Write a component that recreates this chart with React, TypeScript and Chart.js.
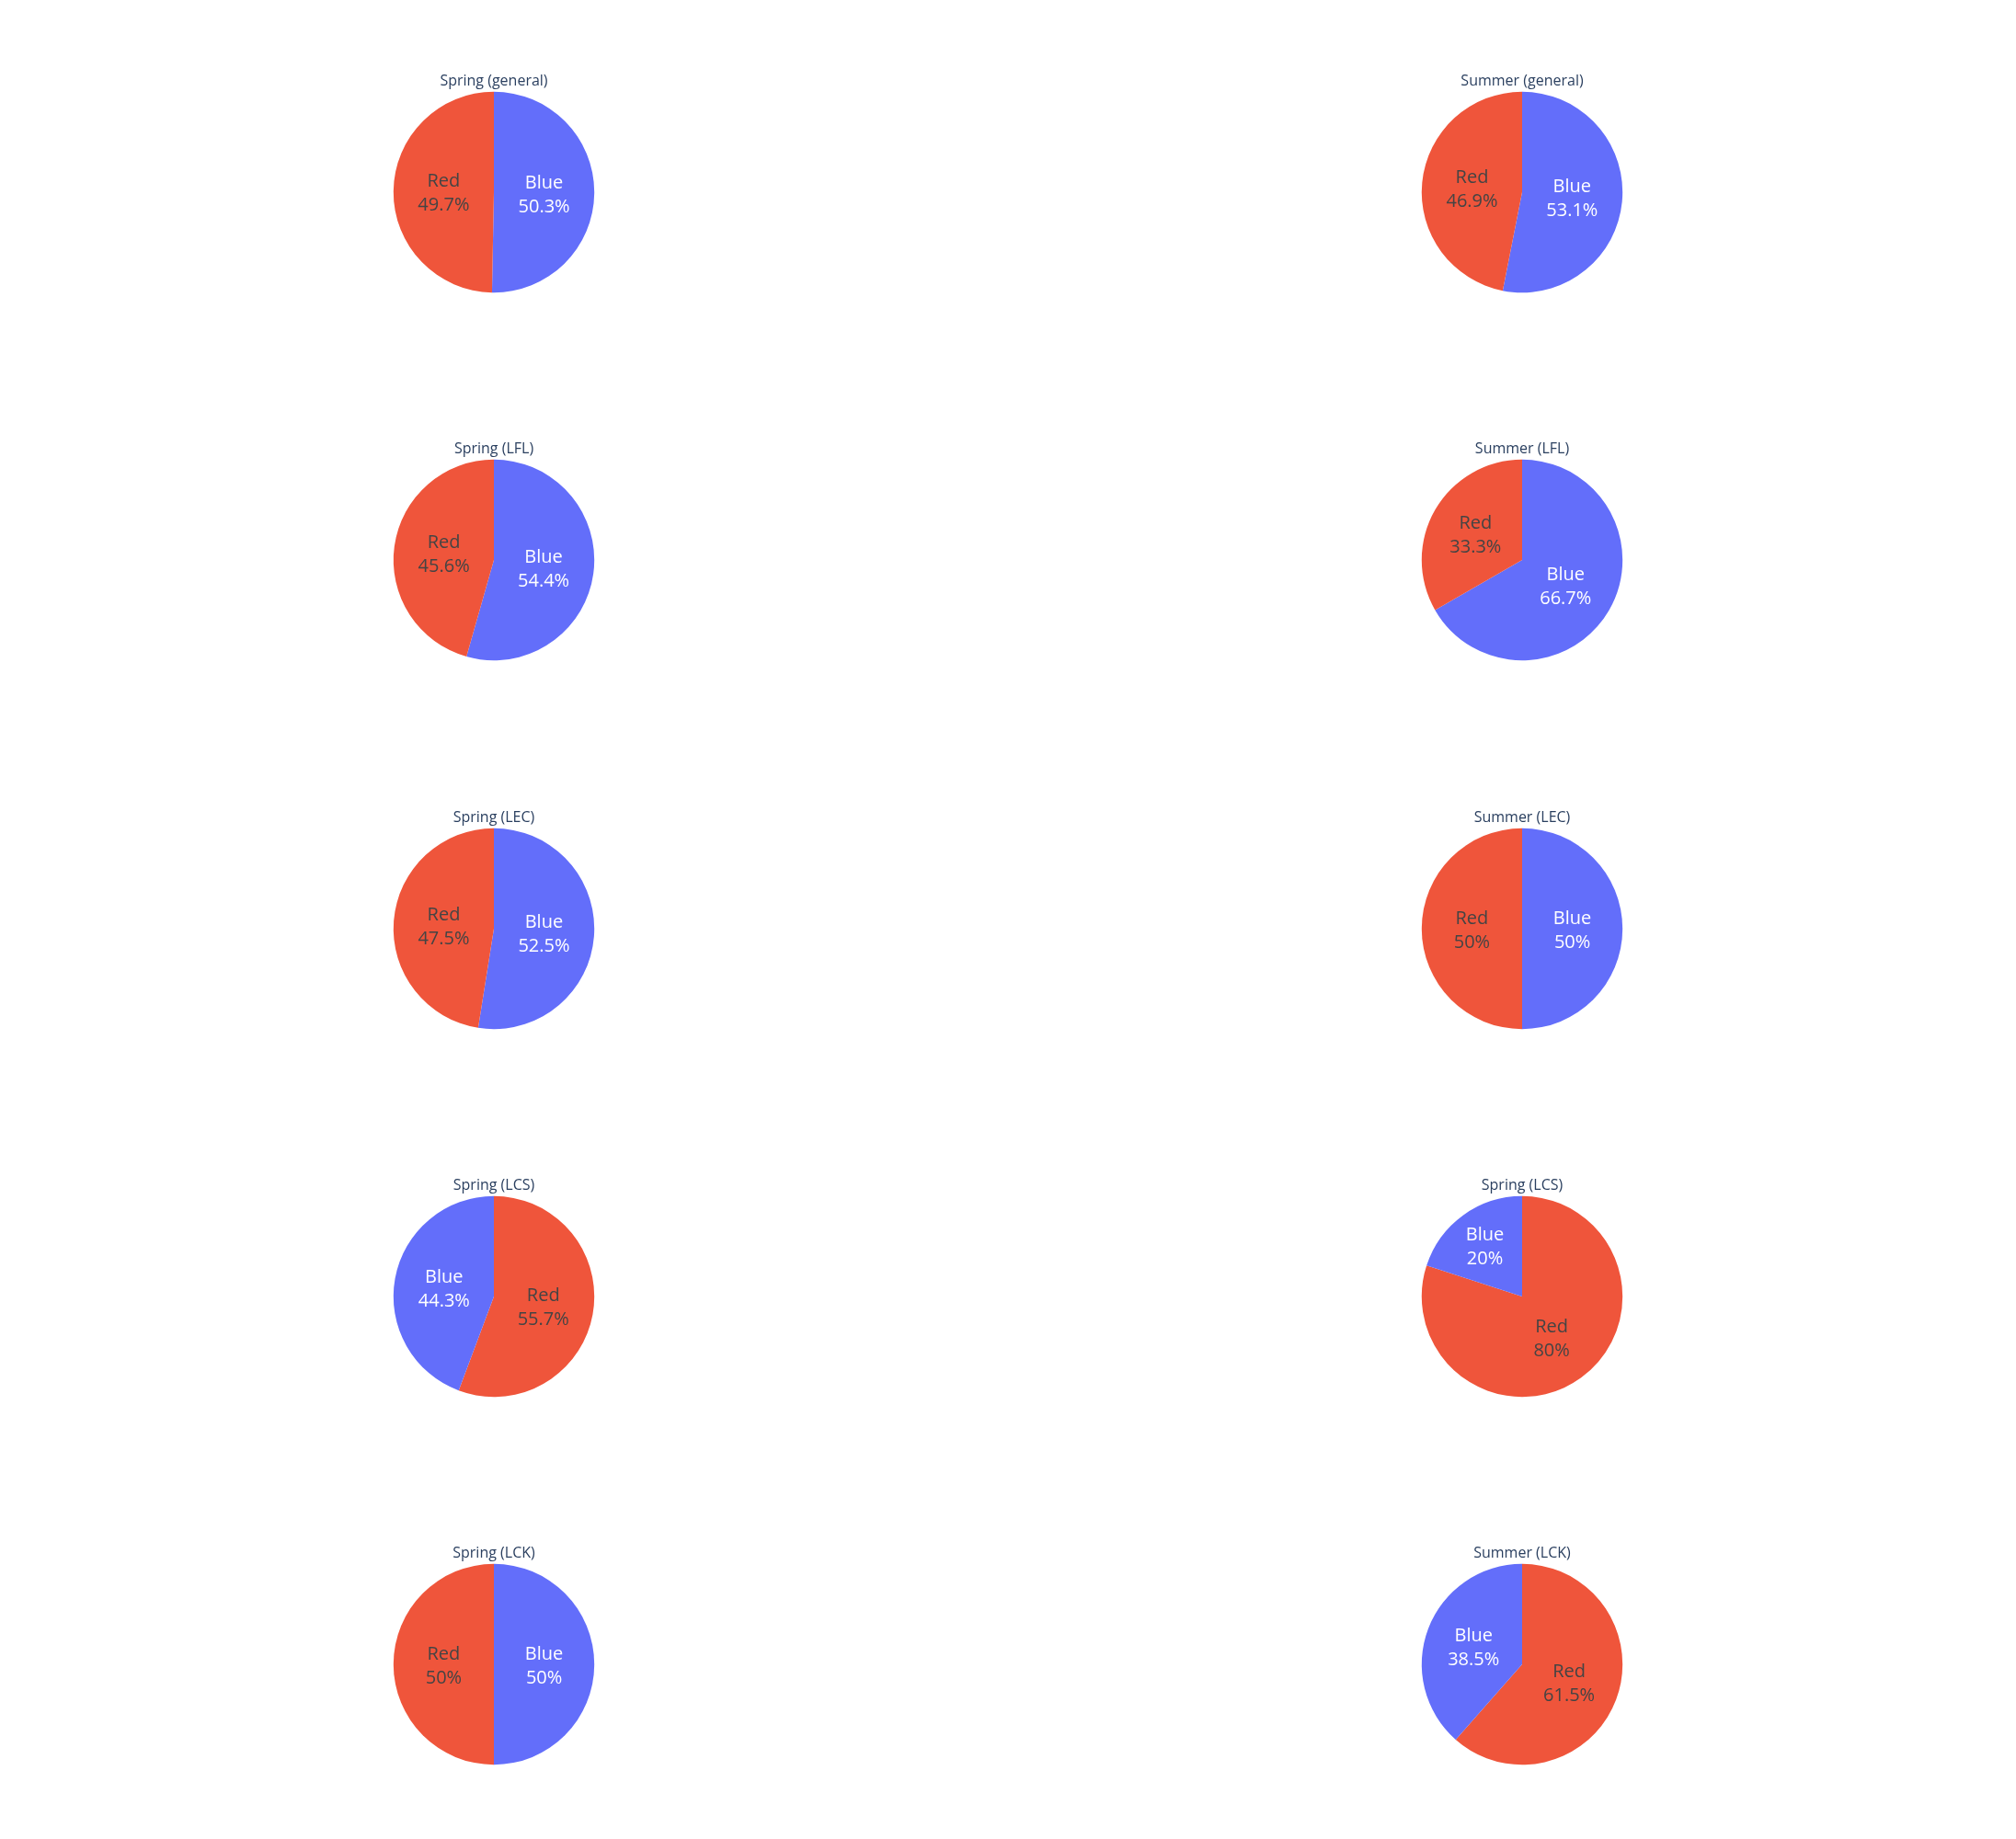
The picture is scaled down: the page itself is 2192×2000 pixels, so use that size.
import React, { useEffect, useRef } from "react";
import { Chart, PieController, ArcElement } from "chart.js";

Chart.register(PieController, ArcElement);

const titles = [
  "Spring (general)",
  "Summer (general)",
  "Spring (LFL)",
  "Summer (LFL)",
  "Spring (LEC)",
  "Summer (LEC)",
  "Spring (LCS)",
  "Spring (LCS)",
  "Spring (LCK)",
  "Summer (LCK)",
];
const categories = ["Blue", "Red"];
const blueShare = [50.3, 53.1, 54.4, 66.7, 52.5, 50, 44.3, 20, 50, 38.5];
const redShare = [49.7, 46.9, 45.6, 33.3, 47.5, 50, 55.7, 80, 50, 61.5];

const sliceColors: Record<string, string> = { Blue: "#636efa", Red: "#EF553B" };
const textColors: Record<string, string> = { Blue: "#ffffff", Red: "#444444" };

const colCenters = [537, 1655];
const rowCenters = [209, 609, 1010, 1410, 1810];
const CANVAS = 300;
const RADIUS = 109.2;

function fmtPct(p: number): string {
  let t = p.toPrecision(3);
  if (t.indexOf(".") >= 0) t = t.replace(/0+$/, "").replace(/\.$/, "");
  return t + "%";
}

const piePlugin = {
  id: "plotlyPieText",
  afterDatasetsDraw(chart: any) {
    const ctx = chart.ctx as CanvasRenderingContext2D;
    const meta = chart.getDatasetMeta(0);
    const ds = chart.data.datasets[0];
    const labels = chart.data.labels as string[];
    const total = (ds.data as number[]).reduce((a, b) => a + b, 0);
    ctx.save();
    meta.data.forEach((arc: any, i: number) => {
      const { x, y, startAngle, endAngle, outerRadius } = arc.getProps(
        ["x", "y", "startAngle", "endAngle", "outerRadius"],
        true
      );
      const half = Math.min((endAngle - startAngle) / 2, Math.PI / 2);
      const rIns = Math.min(1 / (1 + 1 / Math.sin(half)), 0.5);
      const rc = outerRadius * (1 - rIns);
      const mid = (startAngle + endAngle) / 2;
      const px = x + Math.cos(mid) * rc;
      const py = y + Math.sin(mid) * rc;
      const lab = labels[i];
      const pct = fmtPct(((ds.data[i] as number) / total) * 100);
      ctx.fillStyle = textColors[lab];
      ctx.font = '20px "Open Sans"';
      ctx.textAlign = "center";
      ctx.textBaseline = "alphabetic";
      ctx.fillText(lab, px, py - 5);
      ctx.fillText(pct, px, py + 21);
    });
    const ca = chart.chartArea;
    const cx = (ca.left + ca.right) / 2;
    const cy = (ca.top + ca.bottom) / 2;
    ctx.fillStyle = "#2a3f5f";
    ctx.font = '16px "Open Sans"';
    ctx.textAlign = "center";
    ctx.textBaseline = "alphabetic";
    ctx.fillText(chart.options.plugins.pieTitle.text, cx, cy - 116);
    ctx.restore();
  },
};

function PieCanvas({ idx }: { idx: number }) {
  const ref = useRef<HTMLCanvasElement | null>(null);
  useEffect(() => {
    if (!ref.current) return;
    const vals = [blueShare[idx], redShare[idx]];
    const order = categories
      .map((c, i) => ({ c, v: vals[i], i }))
      .sort((a, b) => b.v - a.v || a.i - b.i);
    const chart = new Chart(ref.current, {
      type: "pie",
      data: {
        labels: order.map((o) => o.c),
        datasets: [
          {
            data: order.map((o) => o.v),
            backgroundColor: order.map((o) => sliceColors[o.c]),
            borderWidth: 0,
            radius: RADIUS,
          } as any,
        ],
      },
      options: {
        responsive: false,
        animation: false,
        events: [],
        layout: { padding: 0 },
        plugins: {
          legend: { display: false },
          tooltip: { enabled: false },
          pieTitle: { text: titles[idx] },
        } as any,
      },
      plugins: [piePlugin],
    });
    return () => chart.destroy();
  }, [idx]);
  const row = Math.floor(idx / 2);
  const col = idx % 2;
  return (
    <canvas
      ref={ref}
      width={CANVAS}
      height={CANVAS}
      style={{
        position: "absolute",
        left: colCenters[col] - CANVAS / 2,
        top: rowCenters[row] - CANVAS / 2,
        width: CANVAS,
        height: CANVAS,
      }}
    />
  );
}

export default function App() {
  return (
    <div
      style={{
        position: "absolute",
        left: 0,
        top: 0,
        width: 2192,
        height: 2000,
        background: "#ffffff",
        overflow: "hidden",
      }}
    >
      {titles.map((_, i) => (
        <PieCanvas key={i} idx={i} />
      ))}
    </div>
  );
}
